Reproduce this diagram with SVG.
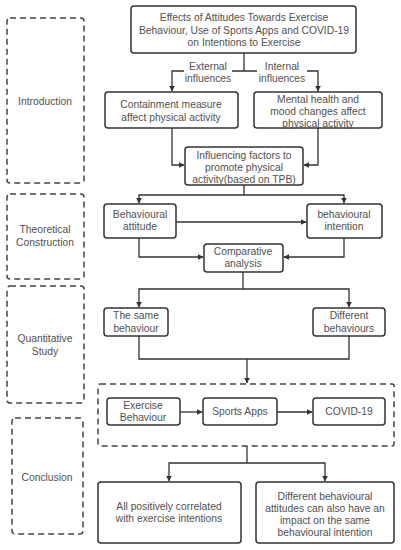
<svg xmlns="http://www.w3.org/2000/svg" width="401" height="550" viewBox="0 0 401 550">
<style>
.box{fill:#fff;stroke:#333;stroke-width:1.5}
.dash{fill:none;stroke:#444;stroke-width:1.5;stroke-dasharray:6 4}
.ln{fill:none;stroke:#333;stroke-width:1.3}
text{font-family:"Liberation Sans",Arial,sans-serif;font-size:10.3px;fill:#505050;text-anchor:middle}
</style>
<defs>
<marker id="ah" viewBox="0 0 10 10" refX="9" refY="5" markerWidth="6" markerHeight="6" markerUnits="userSpaceOnUse" orient="auto"><path d="M0,0 L10,5 L0,10 z" fill="#333"/></marker>
</defs>
<rect width="401" height="550" fill="#fff"/>
<g id="sections">
<g id="sec-intro"><rect class="dash" x="7" y="18" width="77" height="165" rx="3"/><text x="45" y="105">Introduction</text></g>
<g id="sec-theory"><rect class="dash" x="7" y="194" width="77" height="85" rx="3"/><text x="45" y="233">Theoretical</text><text x="45" y="246">Construction</text></g>
<g id="sec-quant"><rect class="dash" x="7" y="286" width="77" height="117" rx="3"/><text x="45" y="342">Quantitative</text><text x="45" y="355">Study</text></g>
<g id="sec-concl"><rect class="dash" x="12" y="418" width="71" height="116" rx="3"/><text x="47" y="481">Conclusion</text></g>
</g>
<g id="connectors">
<path class="ln" d="M244,53 V71"/>
<path class="ln" d="M244,71 H172 V91" marker-end="url(#ah)"/>
<path class="ln" d="M244,71 H318 V91" marker-end="url(#ah)"/>
<path class="ln" d="M172,128 V165 H184" marker-end="url(#ah)"/>
<path class="ln" d="M318,128 V165 H304" marker-end="url(#ah)"/>
<path class="ln" d="M244,185 V195"/>
<path class="ln" d="M244,195 H139 V203" marker-end="url(#ah)"/>
<path class="ln" d="M244,195 H344 V203" marker-end="url(#ah)"/>
<path class="ln" d="M176,222 H306" marker-end="url(#ah)"/>
<path class="ln" d="M139,238 V257 H203" marker-end="url(#ah)"/>
<path class="ln" d="M344,238 V257 H284" marker-end="url(#ah)"/>
<path class="ln" d="M243,272 V289"/>
<path class="ln" d="M243,289 H139 V307" marker-end="url(#ah)"/>
<path class="ln" d="M243,289 H349 V307" marker-end="url(#ah)"/>
<path class="ln" d="M139,336 V359 H349 V336"/>
<path class="ln" d="M247,359 V383" marker-end="url(#ah)"/>
<path class="ln" d="M180,412 H202" marker-end="url(#ah)"/>
<path class="ln" d="M277,412 H312" marker-end="url(#ah)"/>
<path class="ln" d="M247,446 V463"/>
<path class="ln" d="M247,463 H169 V481" marker-end="url(#ah)"/>
<path class="ln" d="M247,463 H325 V481" marker-end="url(#ah)"/>
<g id="lbl-ext"><rect x="184" y="60" width="48" height="24" fill="#fff"/><text x="208" y="70">External</text><text x="208" y="82">influences</text></g>
<g id="lbl-int"><rect x="257" y="60" width="50" height="24" fill="#fff"/><text x="282" y="70">Internal</text><text x="282" y="82">influences</text></g>
</g>
<g id="group-factors"><rect class="dash" x="98" y="384" width="296" height="62" rx="2"/></g>
<g id="n-title"><rect class="box" x="131" y="6" width="225" height="47" rx="3"/><text x="244" y="21">Effects of Attitudes Towards Exercise</text><text x="244" y="33.5">Behaviour, Use of Sports Apps and COVID-19</text><text x="244" y="46">on Intentions to Exercise</text></g>
<g id="n-containment"><rect class="box" x="105" y="92" width="133" height="36" rx="3"/><text x="171" y="108">Containment measure</text><text x="171" y="120.5">affect physical activity</text></g>
<g id="n-mental"><rect class="box" x="254" y="92" width="128" height="36" rx="3"/><text x="318" y="103">Mental health and</text><text x="318" y="115">mood changes affect</text><text x="318" y="127">physical activity</text></g>
<g id="n-influencing"><rect class="box" x="185" y="147" width="118" height="38" rx="3"/><text x="244" y="159">Influencing factors to</text><text x="244" y="171">promote physical</text><text x="244" y="183">activity(based on TPB)</text></g>
<g id="n-attitude"><rect class="box" x="104" y="204" width="72" height="34" rx="3"/><text x="140" y="218">Behavioural</text><text x="140" y="230">attitude</text></g>
<g id="n-intention"><rect class="box" x="307" y="204" width="75" height="34" rx="3"/><text x="344" y="218">behavioural</text><text x="344" y="230">intention</text></g>
<g id="n-comparative"><rect class="box" x="204" y="244" width="79" height="28" rx="3"/><text x="243" y="255">Comparative</text><text x="243" y="267">analysis</text></g>
<g id="n-same"><rect class="box" x="104" y="308" width="64" height="28" rx="3"/><text x="136" y="319">The same</text><text x="136" y="331.5">behaviour</text></g>
<g id="n-different"><rect class="box" x="313" y="308" width="72" height="28" rx="3"/><text x="349" y="319">Different</text><text x="349" y="331.5">behaviours</text></g>
<g id="n-exercise"><rect class="box" x="107" y="398" width="73" height="27" rx="3"/><text x="143" y="409">Exercise</text><text x="143" y="421">Behaviour</text></g>
<g id="n-apps"><rect class="box" x="203" y="398" width="74" height="27" rx="3"/><text x="240" y="415">Sports Apps</text></g>
<g id="n-covid"><rect class="box" x="313" y="398" width="72" height="27" rx="3"/><text x="349" y="415">COVID-19</text></g>
<g id="n-positive"><rect class="box" x="98" y="482" width="143" height="61" rx="3"/><text x="169" y="510">All positively correlated</text><text x="169" y="522">with exercise intentions</text></g>
<g id="n-attitudes"><rect class="box" x="256" y="482" width="138" height="61" rx="3"/><text x="325" y="500">Different behavioural</text><text x="325" y="512">attitudes can also have an</text><text x="325" y="524">impact on the same</text><text x="325" y="536">behavioural intention</text></g>
</svg>
